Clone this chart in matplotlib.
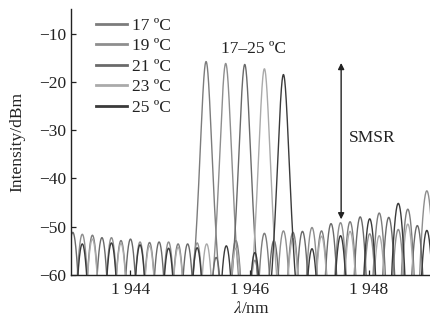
import numpy as np
import matplotlib
matplotlib.use("Agg")
import matplotlib.pyplot as plt

# ---------------- data ----------------
series_labels = ["17 ºC", "19 ºC", "21 ºC", "23 ºC", "25 ºC"]
series_colors = ["#7c7c7c", "#8e8e8e", "#6a6a6a", "#aaaaaa", "#3a3a3a"]

# lasing (main) mode of each series: wavelength (nm), level (dBm)
main_wl = [1945.27, 1945.60, 1945.92, 1946.25, 1946.57]
main_db = [-15.8, -16.2, -16.4, -17.3, -18.5]

# side modes of each series: wavelengths (nm) and levels (dBm)
side_wl_17 = [1943.36, 1943.84, 1944.32, 1944.80, 1945.77, 1946.25, 1946.73, 1947.21, 1947.69, 1948.18, 1948.66]
side_db_17 = [-51.8, -52.9, -53.3, -53.6, -52.9, -51.4, -51.2, -50.9, -49.0, -47.2, -46.4]

side_wl_19 = [1943.19, 1943.68, 1944.16, 1944.64, 1945.12, 1946.09, 1946.57, 1947.05, 1947.53, 1948.02, 1948.50, 1948.98]
side_db_19 = [-51.6, -52.3, -53.2, -53.2, -53.4, -57.0, -50.9, -50.2, -49.2, -51.5, -50.6, -42.6]

side_wl_21 = [1943.03, 1943.52, 1944.00, 1944.48, 1944.96, 1945.44, 1946.41, 1946.89, 1947.37, 1947.86, 1948.34, 1948.82]
side_db_21 = [-51.2, -52.3, -52.6, -53.2, -53.6, -56.4, -52.9, -51.0, -49.4, -48.0, -48.1, -49.8]

side_wl_23 = [1943.36, 1943.84, 1944.32, 1944.80, 1945.28, 1945.77, 1946.73, 1947.21, 1947.69, 1948.18, 1948.66]
side_db_23 = [-52.6, -53.5, -54.0, -54.3, -53.6, -54.5, -52.5, -52.0, -51.0, -51.9, -49.5]

side_wl_25 = [1943.19, 1943.68, 1944.16, 1944.64, 1945.12, 1945.61, 1946.09, 1947.05, 1947.53, 1948.02, 1948.50, 1948.98]
side_db_25 = [-53.6, -53.4, -53.8, -54.5, -54.4, -54.0, -55.4, -54.6, -51.9, -48.4, -45.2, -50.8]

side_wl = [side_wl_17, side_wl_19, side_wl_21, side_wl_23, side_wl_25]
side_db = [side_db_17, side_db_19, side_db_21, side_db_23, side_db_25]

xticks = [1944, 1946, 1948]
xtick_labels = ["1 944", "1 946", "1 948"]
yticks = [-60, -50, -40, -30, -20, -10]
ytick_labels = ["\u221260", "\u221250", "\u221240", "\u221230", "\u221220", "\u221210"]

# ---------------- figure ----------------
plt.rcParams["font.family"] = ["Liberation Serif", "DejaVu Serif"]
plt.rcParams["mathtext.fontset"] = "stix"

fig = plt.figure(figsize=(4.31, 3.25), dpi=100)
ax = fig.add_axes([0.1647, 0.1545, 0.8353, 0.8165])

XMIN, XMAX = 1943.0, 1949.05
x = np.linspace(XMIN, XMAX, 4000)
C_MAIN = 2600.0   # curvature of the lasing peak top (dB/nm^2)
S_MAIN = 70.0     # saturation of the lasing peak flanks (dB)
C_SIDE = 1200.0   # curvature of side-mode arches (dB/nm^2)

for i in range(5):
    q = C_MAIN * (x - main_wl[i]) ** 2
    y = main_db[i] - q / (1.0 + q / S_MAIN)
    for wl, lv in zip(side_wl[i], side_db[i]):
        y = np.maximum(y, lv - C_SIDE * (x - wl) ** 2)
    y = np.maximum(y, -75)
    ax.plot(x, y, color=series_colors[i], lw=1.0, label=series_labels[i],
            solid_joinstyle="round")

ax.set_xlim(XMIN, XMAX)
ax.set_ylim(-60, -5)
ax.set_xticks(xticks)
ax.set_xticklabels(xtick_labels)
ax.set_yticks(yticks)
ax.set_yticklabels(ytick_labels)

for s in ["top", "right"]:
    ax.spines[s].set_visible(False)
for s in ["left", "bottom"]:
    ax.spines[s].set_linewidth(1.0)
    ax.spines[s].set_color("#222222")

ax.tick_params(axis="both", direction="in", length=3.5, width=0.9,
               color="#222222", labelsize=12.5, labelcolor="#222222")
ax.tick_params(axis="y", pad=3.5)
ax.tick_params(axis="x", pad=5)

ax.set_ylabel("Intensity/dBm", fontsize=12.5, color="#222222")
ax.yaxis.set_label_coords(-0.127, 0.5)
ax.set_xlabel(r"$\lambda$/nm", fontsize=12.5, color="#222222")
ax.xaxis.set_label_coords(0.5, -0.1)

leg = ax.legend(loc="upper left", bbox_to_anchor=(0.05, 0.995), frameon=False,
                fontsize=12.5, handlelength=1.8, handletextpad=0.3,
                labelspacing=0.25, borderaxespad=0.0)
for t in leg.get_texts():
    t.set_color("#222222")
for h in leg.get_lines():
    h.set_linewidth(2.0)

ax.text(1946.07, -13.3, "17\u201325 ºC", ha="center", va="center",
        fontsize=12.5, color="#222222")
ax.annotate("", xy=(1947.54, -48.5), xytext=(1947.54, -16.1),
            arrowprops=dict(arrowstyle="<|-|>", color="#222222", lw=1.0,
                            mutation_scale=9, shrinkA=0, shrinkB=0))
ax.text(1947.67, -31.7, "SMSR", ha="left", va="center", fontsize=12.5,
        color="#222222")

fig.savefig("out.png", dpi=100)
